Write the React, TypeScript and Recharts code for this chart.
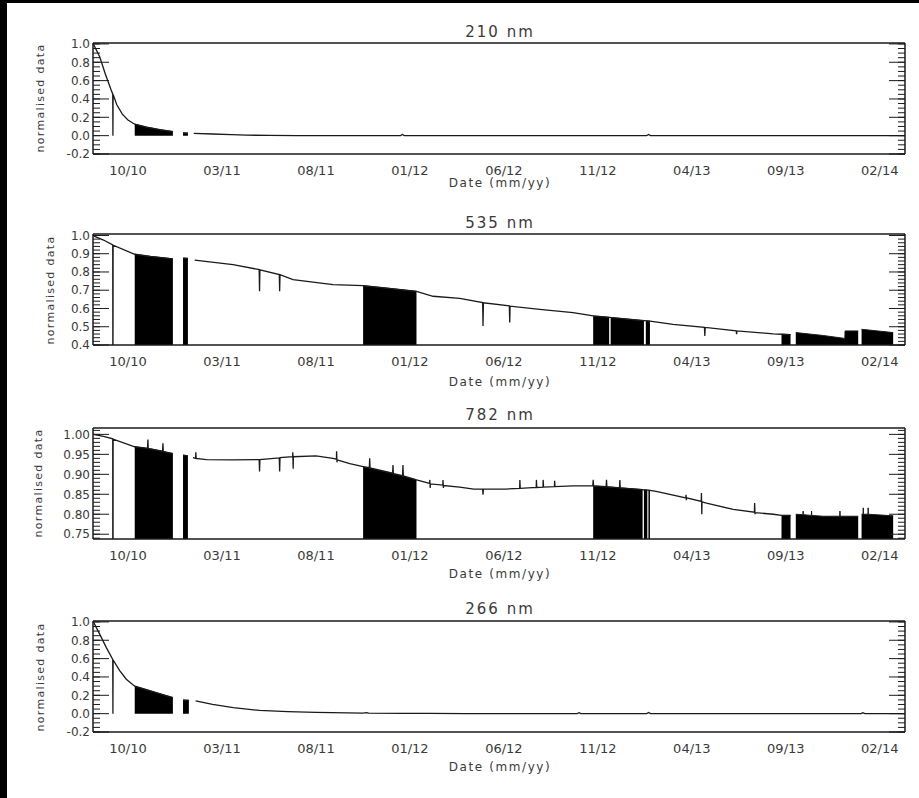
import React from 'react';
import { ComposedChart, Line, Area, XAxis, YAxis } from 'recharts';

type Pt = [number, number | null];

// x values are months counted from October 2010 (0 = 10/10)
const X_DOMAIN: [number, number] = [-1.86, 41.34];
const monthTicks = [0, 5, 10, 15, 20, 25, 30, 35, 40];
const monthLabels = ['10/10', '03/11', '08/11', '01/12', '06/12', '11/12', '04/13', '09/13', '02/14'];

const range = (from: number, to: number, step: number) => {
  const out: number[] = [];
  const n = Math.round((to - from) / step);
  for (let i = 0; i <= n; i++) out.push(+(from + i * step).toFixed(4));
  return out;
};
const monthMinor = range(-1.25, 41.25, 1.25);

// ---- 210 nm ----
const curve210: Pt[] = [
  [-1.84, 1.0], [-1.5, 0.857], [-1.2, 0.67], [-0.9, 0.5], [-0.81, 0.455], [-0.8, 0], [-0.79, 0.45],
  [-0.6, 0.34], [-0.3, 0.235], [0, 0.17], [0.36, 0.125], [1.0, 0.092], [1.7, 0.065], [2.39, 0.045], [2.4, null],
  [2.93, 0.03], [3.19, 0.027], [3.2, null],
  [3.5, 0.025], [4.5, 0.018], [5.5, 0.012], [6.3, 0.006], [7.5, 0.002], [9, 0], [14.5, 0], [14.6, 0.012],
  [14.7, 0], [27.6, 0], [27.7, 0.012], [27.8, 0], [41.34, 0],
];
const fill210: Pt[] = [
  [0.36, 0.125], [1.0, 0.092], [1.7, 0.065], [2.39, 0.045], [2.4, null],
  [2.93, 0.03], [3.19, 0.027],
];

// ---- 535 nm ----
const curve535: Pt[] = [
  [-1.84, 1.0], [-1.77, 0.995], [-1.3, 0.975], [-0.81, 0.948], [-0.8, 0], [-0.79, 0.947], [0.36, 0.897],
  [1.2, 0.885], [2.39, 0.872], [2.4, null],
  [2.93, 0.876], [3.19, 0.874], [3.2, null],
  [3.55, 0.865], [5.59, 0.84], [6.98, 0.813], [7.0, 0.694], [7.02, 0.812], [8.05, 0.786], [8.07, 0.694],
  [8.09, 0.785], [8.78, 0.758], [10.91, 0.731], [12.51, 0.725], [13.9, 0.71], [15.35, 0.694], [16.23, 0.667],
  [17.65, 0.655], [18.87, 0.632], [18.89, 0.504], [18.91, 0.631], [20.29, 0.614], [20.31, 0.523], [20.33, 0.613],
  [21.91, 0.595], [23.68, 0.577], [24.75, 0.559], [26.3, 0.545], [27.77, 0.531], [29.0, 0.513], [30.67, 0.497],
  [30.69, 0.45], [30.71, 0.496], [32.36, 0.478], [32.38, 0.459], [32.4, 0.477], [34.33, 0.461], [34.77, 0.459],
  [35.25, 0.457],
];
const fill535: Pt[] = [
  [0.36, 0.897], [1.2, 0.885], [2.39, 0.872], [2.4, null],
  [2.93, 0.876], [3.19, 0.874], [3.2, null],
  [12.51, 0.725], [13.9, 0.71], [15.35, 0.694], [15.36, null],
  [24.75, 0.559], [25.6, 0.552], [25.61, null], [25.68, 0.551], [27.45, 0.533], [27.46, null],
  [27.55, 0.532], [27.77, 0.531], [27.78, null],
  [34.77, 0.459], [35.25, 0.457], [35.26, null],
  [35.53, 0.468], [36.99, 0.452], [38.14, 0.436], [38.15, 0.477], [38.85, 0.477], [38.86, null],
  [39.03, 0.486], [40.71, 0.468],
];

// ---- 782 nm ----
const curve782: Pt[] = [
  [-1.84, 1.0], [-1.3, 0.995], [-0.81, 0.989], [-0.8, 0], [-0.79, 0.988], [0.36, 0.969], [1.04, 0.965],
  [1.06, 0.987], [1.08, 0.964], [1.84, 0.958], [1.86, 0.978], [1.88, 0.957], [2.39, 0.952], [2.4, null],
  [2.93, 0.948], [3.19, 0.946], [3.2, null],
  [3.46, 0.942], [3.6, 0.94], [3.61, 0.955], [3.63, 0.94], [4.17, 0.937], [5.59, 0.936], [6.98, 0.937],
  [7.0, 0.907], [7.02, 0.937], [8.05, 0.941], [8.07, 0.907], [8.09, 0.942], [8.76, 0.944], [8.77, 0.955],
  [8.79, 0.914], [8.8, 0.944], [10.0, 0.946], [10.91, 0.94], [11.09, 0.938], [11.1, 0.958], [11.12, 0.93],
  [11.13, 0.936], [11.8, 0.927], [12.51, 0.919], [12.84, 0.917], [12.86, 0.94], [12.88, 0.916], [14.08, 0.903],
  [14.1, 0.923], [14.12, 0.902], [14.61, 0.897], [14.63, 0.923], [14.65, 0.896], [15.35, 0.886], [16.05, 0.877],
  [16.06, 0.886], [16.08, 0.866], [16.09, 0.876], [16.75, 0.873], [16.76, 0.886], [16.78, 0.866], [16.79, 0.872],
  [17.65, 0.868], [18.4, 0.863], [18.87, 0.863], [18.89, 0.849], [18.91, 0.863], [20.1, 0.863], [20.84, 0.865],
  [20.85, 0.886], [20.87, 0.865], [21.72, 0.867], [21.73, 0.886], [21.75, 0.867], [22.08, 0.868], [22.09, 0.886],
  [22.11, 0.868], [22.69, 0.869], [22.7, 0.884], [22.72, 0.869], [23.68, 0.871], [24.73, 0.871], [24.75, 0.886],
  [24.77, 0.871], [25.44, 0.869], [25.46, 0.886], [25.48, 0.869], [26.15, 0.866], [26.17, 0.886], [26.19, 0.866],
  [27.77, 0.86], [28.1, 0.857], [29.68, 0.841], [29.69, 0.849], [29.71, 0.835], [29.72, 0.841], [30.5, 0.832],
  [30.51, 0.853], [30.53, 0.8], [30.54, 0.831], [30.78, 0.828], [32.2, 0.812], [33.33, 0.805], [33.34, 0.828],
  [33.36, 0.8], [33.37, 0.804], [34.33, 0.8], [34.77, 0.797], [35.25, 0.797],
];
const fill782: Pt[] = [
  [0.36, 0.969], [1.2, 0.964], [2.39, 0.952], [2.4, null],
  [2.93, 0.948], [3.19, 0.946], [3.2, null],
  [12.51, 0.919], [14.0, 0.903], [15.35, 0.886], [15.36, null],
  [24.75, 0.871], [26.2, 0.866], [27.38, 0.862], [27.39, null], [27.45, 0.861], [27.63, 0.861], [27.64, null],
  [27.69, 0.86], [27.77, 0.86], [27.78, null],
  [34.77, 0.797], [35.25, 0.797], [35.26, null],
  [35.53, 0.8], [35.91, 0.799], [35.92, 0.808], [35.93, 0.799], [36.36, 0.797], [36.37, 0.808], [36.38, 0.797],
  [36.99, 0.795], [37.87, 0.795], [37.88, 0.808], [37.89, 0.795], [38.85, 0.795], [38.86, null],
  [39.03, 0.8], [39.11, 0.8], [39.12, 0.816], [39.13, 0.8], [39.37, 0.8], [39.38, 0.816], [39.39, 0.8],
  [40.71, 0.796],
];

// ---- 266 nm ----
const curve266: Pt[] = [
  [-1.84, 1.0], [-1.51, 0.87], [-1.15, 0.72], [-0.81, 0.59], [-0.8, 0], [-0.79, 0.585], [-0.44, 0.47],
  [-0.09, 0.375], [0.36, 0.3], [1.2, 0.247], [1.9, 0.204], [2.39, 0.175], [2.4, null],
  [2.93, 0.148], [3.24, 0.145], [3.25, null],
  [3.6, 0.14], [4.5, 0.1], [5.6, 0.065], [7.0, 0.035], [8.5, 0.022], [10, 0.015], [12.5, 0.006], [12.7, 0.012],
  [12.8, 0.005], [14.6, 0.004], [16, 0.002], [18, 0], [23.9, 0], [24.0, 0.01], [24.1, 0], [27.6, 0], [27.7, 0.012],
  [27.8, 0], [39.0, 0], [39.1, 0.01], [39.2, 0], [41.34, 0],
];
const fill266: Pt[] = [
  [0.36, 0.3], [1.2, 0.247], [1.9, 0.204], [2.39, 0.175], [2.4, null],
  [2.93, 0.148], [3.24, 0.145],
];

const toRows = (pts: Pt[]) => pts.map(([m, v]) => ({ m, v }));

const INK = '#1a1a1a';
const TEXT = '#3a3a3a';
const FONT = '"DejaVu Sans", sans-serif';

type PanelDef = {
  title: string;
  top: number;
  curve: Pt[];
  fill: Pt[];
  domain: [number, number];
  major: number[];
  minor: number[];
  digits: number;
  titleY: number;
  dateY: number;
  yTitleX: number;
};

const panels: PanelDef[] = [
  {
    title: '210 nm', top: 42.5, curve: curve210, fill: fill210, domain: [-0.2, 1.01],
    major: range(-0.2, 1.0, 0.2), minor: range(-0.2, 1.0, 0.05), digits: 1, titleY: 31.7, dateY: 183, yTitleX: 40,
  },
  {
    title: '535 nm', top: 234, curve: curve535, fill: fill535, domain: [0.4, 1.008],
    major: range(0.4, 1.0, 0.1), minor: range(0.4, 1.0, 0.02), digits: 1, titleY: 223.3, dateY: 381.7, yTitleX: 50,
  },
  {
    title: '782 nm', top: 427.5, curve: curve782, fill: fill782, domain: [0.738, 1.016],
    major: range(0.75, 1.0, 0.05), minor: range(0.74, 1.01, 0.01), digits: 2, titleY: 415.3, dateY: 574, yTitleX: 38,
  },
  {
    title: '266 nm', top: 621, curve: curve266, fill: fill266, domain: [-0.2, 1.01],
    major: range(-0.2, 1.0, 0.2), minor: range(-0.2, 1.0, 0.05), digits: 1, titleY: 608.7, dateY: 767, yTitleX: 40,
  },
];

const PLOT_H = 111;
const CHART_W = 919;
const CHART_H = 190;
const PAD_TOP = 30;
// mirrored tick-only axes take (almost) no room so they sit on the plot frame
const THIN = 0.01;

const blank = () => '';
const frame = { stroke: INK, strokeWidth: 1.5 };
const tickInk = { stroke: INK, strokeWidth: 1 };

function Panel({ p }: { p: PanelDef }) {
  const xLabel = (v: number) => monthLabels[monthTicks.indexOf(v)] ?? '';
  const yLabel = (v: number) => v.toFixed(p.digits);
  return (
    <div style={{ position: 'absolute', left: 0, top: p.top - PAD_TOP, width: CHART_W, height: CHART_H }}>
      <ComposedChart
        width={CHART_W}
        height={CHART_H}
        margin={{ top: PAD_TOP, right: 14, bottom: CHART_H - PAD_TOP - PLOT_H - 20, left: 43 }}
      >
        <XAxis
          xAxisId="lab" type="number" dataKey="m" domain={X_DOMAIN} allowDataOverflow
          ticks={monthTicks} interval={0} tickFormatter={xLabel} tickLine={false} tickSize={0} tickMargin={12}
          height={20} axisLine={frame} tick={{ fontSize: 13, fill: TEXT }} className="xlab"
        />
        <XAxis
          xAxisId="bMinor" type="number" domain={X_DOMAIN} allowDataOverflow mirror ticks={monthMinor} height={THIN}
          interval={0} tickFormatter={blank} tickSize={1.5} tickLine={tickInk} axisLine={false}
        />
        <XAxis
          xAxisId="bMajor" type="number" domain={X_DOMAIN} allowDataOverflow mirror ticks={monthTicks} height={THIN}
          interval={0} tickFormatter={blank} tickSize={3} tickLine={tickInk} axisLine={false}
        />
        <XAxis
          xAxisId="tMinor" orientation="top" type="number" domain={X_DOMAIN} allowDataOverflow mirror height={THIN}
          ticks={monthMinor} interval={0} tickFormatter={blank} tickSize={1.5} tickLine={tickInk} axisLine={frame}
        />
        <XAxis
          xAxisId="tMajor" orientation="top" type="number" domain={X_DOMAIN} allowDataOverflow mirror height={THIN}
          ticks={monthTicks} interval={0} tickFormatter={blank} tickSize={3} tickLine={tickInk} axisLine={false}
        />
        <YAxis
          yAxisId="lab" type="number" domain={p.domain} allowDataOverflow ticks={p.major} interval={0}
          tickFormatter={yLabel} tickLine={false} tickSize={0} tickMargin={3} width={50} axisLine={frame}
          tick={{ fontSize: 12, fill: TEXT }} className="ylab"
        />
        <YAxis
          yAxisId="lMinor" type="number" domain={p.domain} allowDataOverflow mirror ticks={p.minor} interval={0}
          width={THIN} tickFormatter={blank} tickSize={7} tickLine={tickInk} axisLine={false}
        />
        <YAxis
          yAxisId="lMajor" type="number" domain={p.domain} allowDataOverflow mirror ticks={p.major} interval={0}
          width={THIN} tickFormatter={blank} tickSize={16} tickLine={tickInk} axisLine={false}
        />
        <YAxis
          yAxisId="rMinor" orientation="right" type="number" domain={p.domain} allowDataOverflow mirror width={THIN}
          ticks={p.minor} interval={0} tickFormatter={blank} tickSize={7} tickLine={tickInk} axisLine={frame}
        />
        <YAxis
          yAxisId="rMajor" orientation="right" type="number" domain={p.domain} allowDataOverflow mirror width={THIN}
          ticks={p.major} interval={0} tickFormatter={blank} tickSize={16} tickLine={tickInk} axisLine={false}
        />
        <Area
          xAxisId="lab" yAxisId="lab" data={toRows(p.fill)} dataKey="v" type="linear" stroke={INK}
          strokeWidth={1} fill="#000" fillOpacity={1} connectNulls={false} dot={false} activeDot={false}
          isAnimationActive={false}
        />
        <Line
          xAxisId="lab" yAxisId="lab" data={toRows(p.curve)} dataKey="v" type="linear" stroke={INK}
          strokeWidth={1.3} connectNulls={false} dot={false} activeDot={false} isAnimationActive={false}
        />
      </ComposedChart>
    </div>
  );
}

const textBase: React.CSSProperties = {
  position: 'absolute',
  fontFamily: FONT,
  color: TEXT,
  whiteSpace: 'nowrap',
  lineHeight: 1,
};

export default function App() {
  return (
    <div style={{ position: 'absolute', left: 0, top: 0, width: 919, height: 798, background: '#fff', overflow: 'hidden', fontFamily: FONT }}>
      <style>{`
        .xlab text { letter-spacing: 2px; }
        .ylab text { letter-spacing: 0.6px; }
      `}</style>
      {panels.map((p) => (
        <React.Fragment key={p.title}>
          <Panel p={p} />
          <div style={{ ...textBase, left: 500, top: p.titleY, fontSize: 15, letterSpacing: 2, transform: 'translate(-50%, -50%)' }}>
            {p.title}
          </div>
          <div style={{ ...textBase, left: 500, top: p.dateY, fontSize: 12, letterSpacing: 1.6, transform: 'translate(-50%, -50%)' }}>
            Date (mm/yy)
          </div>
          <div
            style={{
              ...textBase, left: p.yTitleX, top: p.top + PLOT_H / 2, fontSize: 11, letterSpacing: 1.3,
              transform: 'translate(-50%, -50%) rotate(-90deg)',
            }}
          >
            normalised data
          </div>
        </React.Fragment>
      ))}
      <div style={{ position: 'absolute', left: 0, top: 0, width: 7, height: 798, background: '#000' }} />
      <div style={{ position: 'absolute', left: 0, top: 0, width: 919, height: 3, background: '#000' }} />
    </div>
  );
}
